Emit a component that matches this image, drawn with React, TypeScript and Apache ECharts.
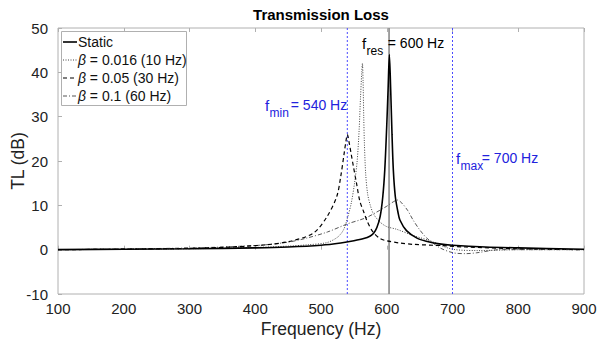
import React, { useEffect, useRef } from "react";
import * as echarts from "echarts";

// Static resonator
const staticF = [100, 200, 300, 400, 450, 500, 530, 550, 565, 575, 580, 585, 590, 594, 597, 600, 602, 604, 606, 608, 610, 613, 617, 620, 630, 646, 660, 680, 700, 750, 800, 900];
const staticTL = [0, 0.1, 0.2, 0.4, 0.6, 1.0, 1.5, 2.0, 2.5, 3.1, 3.7, 5, 7.5, 12, 18, 28, 36, 44, 36, 26, 18, 12, 8.5, 6.7, 4.3, 2.6, 1.9, 1.3, 1.0, 0.6, 0.4, 0.1];

// beta = 0.016 (10 Hz)
const b1F = [100, 300, 400, 450, 480, 509, 525, 534, 540, 546, 551, 555, 558, 560, 562, 563, 564, 565, 566, 568, 571, 575, 580, 590, 600, 615, 640, 666, 700, 740, 800, 900];
const b1TL = [0, 0.2, 0.5, 0.8, 1.1, 1.6, 2.8, 4.4, 7, 10.5, 15, 20, 27, 34, 40, 42, 38, 30, 24, 17, 12.5, 10, 8, 6.2, 5.2, 4.6, 3.2, 2.0, 0.1, -0.2, 0, 0];

// beta = 0.05 (30 Hz)
const b2F = [100, 300, 400, 450, 488, 509, 524, 530, 535, 538, 540, 543, 546, 549, 554, 559, 565, 570, 579, 590, 600, 620, 640, 686, 720, 800, 900];
const b2TL = [0, 0.3, 0.9, 1.8, 3.7, 7.4, 12, 16.5, 21.5, 24.5, 26, 24, 21.5, 19, 15, 11, 8.5, 6.5, 4, 2.5, 2, 1.5, 1.2, 0.9, 0.6, 0.2, 0];

// beta = 0.1 (60 Hz)
const b3F = [100, 306, 407, 450, 478, 510, 540, 559, 570, 585, 600, 610, 616, 623, 632, 640, 650, 661, 681, 701, 720, 737, 772, 800, 900];
const b3TL = [0, 0.4, 1.0, 1.7, 2.6, 4.0, 5.8, 6.7, 7.3, 8.5, 9.8, 10.8, 11.2, 10.5, 8.8, 6.7, 4.5, 2.6, 0.4, -0.7, -0.9, -0.7, 0, 0, 0];

const xTicks = [100, 200, 300, 400, 500, 600, 700, 800, 900];
const yTicks = [-10, 0, 10, 20, 30, 40, 50];
const fMin = 540;
const fMax = 700;
const fRes = 603.5;
const yMin = -10;
const yMax = 50;

const FONT = "Liberation Sans, Arial, Helvetica, sans-serif";

const zip = (xs: number[], ys: number[]) => xs.map((x, i) => [x, ys[i]]);

const vline = (f: number, color: string, type: any, width: number) => ({
  type: "line",
  data: [[f, yMin], [f, yMax]],
  silent: true,
  showSymbol: false,
  color,
  lineStyle: { color, type, width },
});

export default function App() {
  const ref = useRef<HTMLDivElement>(null);
  useEffect(() => {
    if (!ref.current) return;
    const chart = echarts.init(ref.current, undefined, { renderer: "svg" });
    const legendItems = [
      { text: "Static", dash: null as any, color: "#000", w: 1.6 },
      { text: "{i|β} = 0.016 (10 Hz)", dash: [1, 1.5], color: "#444", w: 1 },
      { text: "{i|β} = 0.05 (30 Hz)", dash: [4, 3], color: "#000", w: 1.2 },
      { text: "{i|β} = 0.1 (60 Hz)", dash: [4, 2, 1, 2], color: "#555", w: 1 },
    ];
    const legendGraphics: any[] = [
      {
        type: "rect",
        shape: { x: 61.5, y: 31.5, width: 125, height: 74 },
        style: { fill: "#fff", stroke: "#b0b0b0", lineWidth: 1 },
        z: 100,
      },
    ];
    legendItems.forEach((it, i) => {
      const y = 42 + i * 18;
      legendGraphics.push({
        type: "line",
        shape: { x1: 63, y1: y, x2: 77, y2: y },
        style: { stroke: it.color, lineWidth: it.w, lineDash: it.dash || undefined },
        z: 101,
      });
      legendGraphics.push({
        type: "text",
        x: 78,
        y: y,
        style: {
          text: it.text,
          fontFamily: FONT,
          fontSize: 14,
          fill: "#111",
          verticalAlign: "middle",
          rich: { i: { fontStyle: "italic", fontFamily: FONT, fontSize: 14, fill: "#111" } },
        },
        z: 101,
      });
    });
    const annot = (x: number, y: number, sub: string, rest: string, color: string) => [
      { type: "text", x, y, style: { text: "f", fontFamily: FONT, fontSize: 15, fill: color, verticalAlign: "middle" }, z: 50 },
      { type: "text", x: x + 4.5, y: y + 8, style: { text: sub, fontFamily: FONT, fontSize: 12, fill: color, verticalAlign: "middle" }, z: 50 },
      { type: "text", x: x + 6 + sub.length * 6.6, y, style: { text: rest, fontFamily: FONT, fontSize: 14, fill: color, verticalAlign: "middle" }, z: 50 },
    ];
    const option: any = {
      animation: false,
      backgroundColor: "#fff",
      grid: { left: 58, right: 13, top: 28, bottom: 53, show: true, borderColor: "#b0b0b0", borderWidth: 1, outerBoundsMode: "none", containLabel: false },
      xAxis: [
        {
          type: "value",
          min: 100,
          max: 900,
          interval: 100,
          axisLine: { show: false },
          axisTick: { show: true, inside: true, length: 4, lineStyle: { color: "#b0b0b0" } },
          axisLabel: { fontFamily: FONT, fontSize: 15, color: "#222", margin: 7, formatter: (v: number) => (xTicks.includes(v) ? String(v) : "") },
          splitLine: { show: false },
        },
        {
          type: "value",
          position: "top",
          min: 100,
          max: 900,
          interval: 100,
          axisLine: { show: false },
          axisTick: { show: true, inside: true, length: 4, lineStyle: { color: "#b0b0b0" } },
          axisLabel: { show: false },
          splitLine: { show: false },
        },
      ],
      yAxis: [
        {
          type: "value",
          min: yMin,
          max: yMax,
          interval: 10,
          axisLine: { show: false },
          axisTick: { show: true, inside: true, length: 4, lineStyle: { color: "#b0b0b0" } },
          axisLabel: { fontFamily: FONT, fontSize: 15, color: "#222", margin: 10, formatter: (v: number) => (yTicks.includes(v) ? String(v) : "") },
          splitLine: { show: false },
        },
      ],
      series: [
        vline(fMin, "#4a4aff", [2, 2], 1),
        vline(fMax, "#4a4aff", [2, 2], 1),
        vline(fRes, "#8a8a8a", "solid", 1.6),
        {
          type: "line",
          name: "b3",
          data: zip(b3F, b3TL),
          smooth: 0.3,
          showSymbol: false,
          lineStyle: { color: "#555", width: 1, type: [4, 2, 1, 2] },
        },
        {
          type: "line",
          name: "b2",
          data: zip(b2F, b2TL),
          smooth: 0.3,
          showSymbol: false,
          lineStyle: { color: "#000", width: 1.2, type: [4, 3] },
        },
        {
          type: "line",
          name: "b1",
          data: zip(b1F, b1TL),
          smooth: 0.3,
          showSymbol: false,
          lineStyle: { color: "#444", width: 1, type: [1, 1.5] },
        },
        {
          type: "line",
          name: "Static",
          data: zip(staticF, staticTL),
          smooth: 0.3,
          showSymbol: false,
          lineStyle: { color: "#000", width: 1.6 },
        },
      ],
      graphic: [
        {
          type: "text",
          x: 321,
          y: 14,
          style: { text: "Transmission Loss", fontFamily: FONT, fontSize: 15, fontWeight: "bold", fill: "#000", align: "center", verticalAlign: "middle" },
        },
        {
          type: "text",
          x: 321,
          y: 329,
          style: { text: "Frequency (Hz)", fontFamily: FONT, fontSize: 17.5, fill: "#222", align: "center", verticalAlign: "middle" },
        },
        {
          type: "text",
          x: 18,
          y: 161,
          rotation: Math.PI / 2,
          style: { text: "TL (dB)", fontFamily: FONT, fontSize: 17.5, fill: "#222", align: "center", verticalAlign: "middle" },
        },
        ...annot(362, 43, "res", "= 600 Hz", "#000"),
        ...annot(265, 105, "min", "= 540 Hz", "#2222dd"),
        ...annot(456, 158, "max", "= 700 Hz", "#2222dd"),
        ...legendGraphics,
      ],
    };
    chart.setOption(option);
    return () => chart.dispose();
  }, []);
  return <div ref={ref} style={{ position: "absolute", left: 0, top: 0, width: 597, height: 347 }} />;
}
